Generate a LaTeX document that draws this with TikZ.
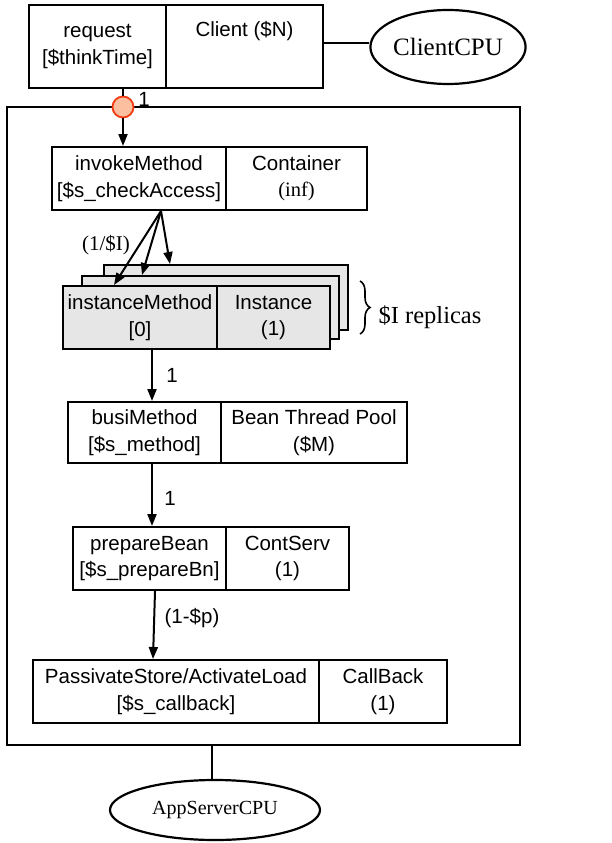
\documentclass[tikz,border=0pt]{standalone}
\usepackage{fontspec}
\setmainfont{Liberation Serif}
\newfontfamily\arial{Liberation Sans}
\usetikzlibrary{arrows.meta,shapes.geometric,decorations.pathreplacing}
\definecolor{stackgray}{HTML}{E6E6E6}
\definecolor{tokfill}{HTML}{FCBFA0}
\definecolor{tokdraw}{HTML}{F03C10}
\begin{document}
\begin{tikzpicture}[x=1pt,y=-1pt,
  box/.style={draw, line width=2pt, inner sep=0pt, align=center,
    font=\arial\fontsize{20.5}{26.5}\selectfont},
  conn/.style={line width=2pt},
  arr/.style={line width=2pt, -{Triangle[length=12pt,width=9pt]}},
  lab/.style={font=\arial\fontsize{20.5}{24}\selectfont, inner sep=0pt},
  slab/.style={font=\fontsize{21}{24}\selectfont, inner sep=0pt},
  cpu/.style={draw, ellipse, line width=2.2pt, inner sep=0pt}]
\useasboundingbox (0,0) rectangle (611,843);

% outer server box
\node (srv) [draw, line width=2pt, minimum width=513pt, minimum height=638pt, inner sep=0pt] at (263.5,426) {};

% client task
\node (req) [box, minimum width=137pt, minimum height=83pt] at (97.5,46.5) {request\\{}[\$thinkTime]};
\node (cli) [box, minimum width=157pt, minimum height=83pt] at (244.5,46.5) {Client (\$N)\\\strut};
\node (ccpu) [cpu, minimum width=150pt, minimum height=74pt, font=\fontsize{25}{29}\selectfont] at (448,47) {ClientCPU};
\draw[conn] ([yshift=3pt]cli.east) -- ([yshift=3pt]cli.east -| ccpu.west);

% token
\node (tok) [circle, draw=tokdraw, fill=tokfill, line width=1.8pt, minimum size=21pt, inner sep=0pt] at (123,107) {};
\node (one0) [lab] at (144,99) {1};

% invokeMethod
\node (invL) [box, minimum width=174pt, minimum height=63pt] at (139,178.5) {invokeMethod\\{}[\$s\_checkAccess]};
\node (invR) [box, minimum width=141pt, minimum height=63pt] at (296.5,178.5) {Container\\{\rmfamily (inf)}};
\draw[conn] (tok |- req.south) -- (tok);
\draw[arr] (tok) -- (tok |- invL.north);

% replica stack
\node (bk) [draw, fill=stackgray, line width=2pt, minimum width=244pt, minimum height=65pt, inner sep=0pt] at (226,297.5) {};
\node (md) [draw, fill=stackgray, line width=2pt, minimum width=257pt, minimum height=63pt, inner sep=0pt] at (210.5,307.5) {};
\node (imL) [box, fill=stackgray, minimum width=154pt, minimum height=63pt] at (140,317.5) {instanceMethod\\{}[0]};
\node (imR) [box, fill=stackgray, minimum width=113pt, minimum height=63pt] at (273.5,317.5) {Instance\\(1)};

\coordinate (fork) at (161,211);
\draw[arr] (fork) -- ([xshift=52pt]imL.north west);
\draw[arr] (fork) -- ([xshift=61pt]md.north west);
\draw[arr] (fork) -- ([xshift=67pt]bk.north west);
\node (frac) [slab] at (106,245) {(1/\$I)};

\draw[line width=1.6pt, decorate, decoration={brace, amplitude=10pt}] (360,281) -- (360,334);
\node (rep) [inner sep=0pt, font=\fontsize{24.5}{28}\selectfont] at (430,317) {\$I replicas};

% busiMethod
\node (buL) [box, minimum width=153pt, minimum height=61pt] at (144.5,432.5) {busiMethod\\{}[\$s\_method]};
\node (buR) [box, minimum width=186pt, minimum height=61pt] at (314,432.5) {Bean Thread Pool\\(\$M)};
\draw[arr] ([xshift=12pt]imL.south) -- ([xshift=7.5pt]buL.north);
\node (one1) [lab] at (172,375) {1};

% prepareBean
\node (prL) [box, minimum width=153pt, minimum height=63pt] at (149.5,558.5) {prepareBean\\{}[\$s\_prepareBn]};
\node (prR) [box, minimum width=123pt, minimum height=63pt] at (287.5,558.5) {ContServ\\(1)};
\draw[arr] ([xshift=7.5pt]buL.south) -- ([xshift=2.5pt]prL.north);
\node (one2) [lab] at (170,498) {1};

% PassivateStore
\node (paL) [box, minimum width=286pt, minimum height=63pt] at (176,691.5) {PassivateStore/ActivateLoad\\{}[\$s\_callback]};
\node (paR) [box, minimum width=128pt, minimum height=63pt] at (383,691.5) {CallBack\\(1)};
\draw[arr] ([xshift=5.5pt]prL.south) -- ([xshift=-23pt]paL.north);
\node (pl) [lab] at (192,618) {(1-\$p)};

% AppServerCPU
\node (acpu) [cpu, minimum width=210pt, minimum height=60pt, font=\fontsize{20}{24}\selectfont] at (215,810) {AppServerCPU};
\draw[conn] ([xshift=-3pt]acpu.north) -- ([xshift=-3pt]acpu.north |- srv.south);
\end{tikzpicture}
\end{document}
